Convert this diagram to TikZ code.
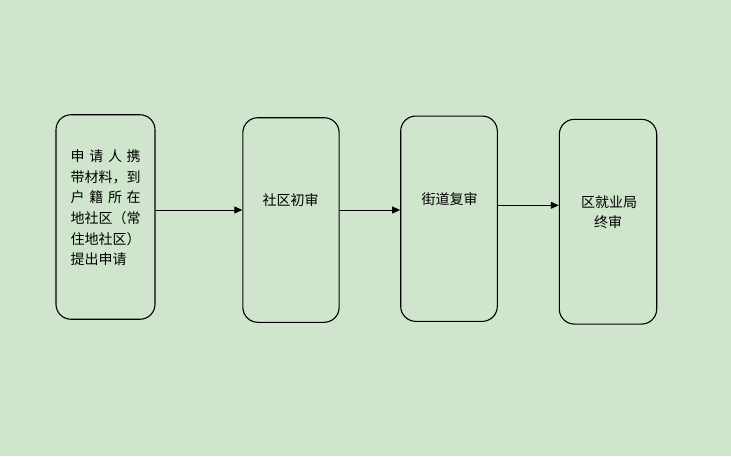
\documentclass[tikz,border=0pt]{standalone}
\usepackage{fontspec}
\newfontfamily\cjk{Noto Sans CJK SC}
\usetikzlibrary{arrows.meta}
\definecolor{bg}{RGB}{207,230,204}
\begin{document}
\begin{tikzpicture}[x=1pt,y=-1pt,
  stage/.style={draw=black, line width=1.1pt, rounded corners=15pt, inner sep=0pt},
  lbl/.style={font=\cjk\fontsize{14}{16}\selectfont, inner sep=0pt},
  line/.style={font=\cjk\fontsize{14}{16}\selectfont, inner sep=0pt, anchor=base west},
  arr/.style={draw=black, line width=0.9pt, -{Triangle[length=8pt,width=7pt]}}]
\fill[bg] (0,0) rectangle (731,456);
\useasboundingbox (0,0) rectangle (731,456);
% boxes
\node[stage, minimum width=99pt, minimum height=204.5pt] (b1) at (105.5,217) {};
\node[stage, minimum width=96.3pt, minimum height=204.6pt] (b2) at (291,220) {};
\node[stage, minimum width=96.6pt, minimum height=205.3pt] (b3) at (449,218.7) {};
\node[stage, minimum width=97.4pt, minimum height=204.7pt] (b4) at (608,221.7) {};
% box 1 text
\node[line] (l1) at (70.5,161.3) {\makebox[70pt][s]{申\hfill 请\hfill 人\hfill 携}};
\node[line] (l2) at (70.5,182.0) {带材料，到};
\node[line] (l3) at (70.5,202.6) {\makebox[70pt][s]{户\hfill 籍\hfill 所\hfill 在}};
\node[line] (l4) at (70.5,223.6) {地社区（常};
\node[line] (l5) at (70.5,244.3) {住地社区）};
\node[line] (l6) at (70.5,264.6) {提出申请};
% other texts
\node[lbl] (t2) at (290.5,200) {社区初审};
\node[lbl] (t3) at (449.5,199) {街道复审};
\node[lbl] (t4a) at (609,201.7) {区就业局};
\node[lbl] (t4b) at (608,222) {终审};
% arrows
\draw[arr] (b1.east |- 0,210) -- (b2.west |- 0,210);
\draw[arr] (b2.east |- 0,210) -- (b3.west |- 0,210);
\draw[arr] (b3.east |- 0,205.3) -- (b4.west |- 0,205.3);
\end{tikzpicture}
\end{document}
